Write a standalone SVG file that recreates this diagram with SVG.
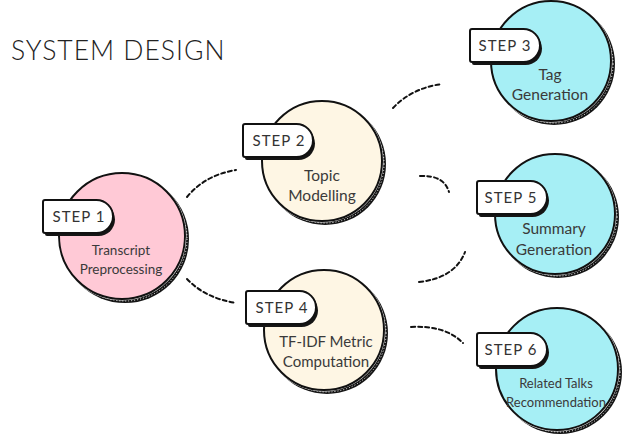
<svg xmlns="http://www.w3.org/2000/svg" width="643" height="443" viewBox="0 0 643 443">
<style>
.title{font-family:Lato,"Noto Sans",sans-serif;font-weight:300;font-size:26.5px;fill:#222;letter-spacing:1px}
.step{font-family:Lato,"Noto Sans",sans-serif;font-size:15px;fill:#333;letter-spacing:1px;text-anchor:middle}
.lbl{font-family:Lato,"Noto Sans",sans-serif;fill:#3a3a3a;text-anchor:middle}
.shadow{fill:#151515}
.hatch{fill:none;stroke:#fff;stroke-width:1;stroke-dasharray:1 2}
.gap{fill:#fff}
.main{stroke:#111;stroke-width:2}
.pink{fill:#FFC9D6}
.cream{fill:#FEF6E4}
.cyan{fill:#A6EFF5}
.conn path{fill:none;stroke:#111;stroke-width:2;stroke-dasharray:4 3;stroke-linecap:round}
</style>
<defs>
<path id="tab" d="M0,2 Q0,0 2,0 H53.5 A16.5,16.5 0 0 1 53.5,33 H2 Q0,33 0,31 Z"/>
<g id="tabfull">
<use href="#tab" transform="translate(2,3)" fill="#151515"/>
<use href="#tab" fill="#fff" stroke="#111" stroke-width="2"/>
</g>
</defs>
<rect width="643" height="443" fill="#fff"/>
<text class="title" x="11" y="60">SYSTEM DESIGN</text>

<g class="conn">
<path d="M187,197 Q205,175 236,170"/>
<path d="M187,279 Q205,298 236,303"/>
<path d="M393,108 Q412,88 442,84"/>
<path d="M420,176 Q444,175 449,192"/>
<path d="M419,282 Q455,278 465,252"/>
<path d="M411,327 Q445,325 463,343"/>
</g>

<g id="step1">
<circle class="shadow" cx="125" cy="239" r="64"/>
<circle class="hatch" cx="125" cy="239" r="62"/>
<circle class="gap" cx="122" cy="236" r="64.5"/>
<circle class="main pink" cx="122" cy="236" r="63"/>
<use href="#tabfull" x="43" y="200"/>
<text class="step" x="79" y="222">STEP 1</text>
<text class="lbl" x="121" y="255" font-size="13.5">Transcript</text>
<text class="lbl" x="121" y="274" font-size="13.5">Preprocessing</text>
</g>

<g id="step2">
<circle class="shadow" cx="325" cy="164" r="61"/>
<circle class="hatch" cx="325" cy="164" r="59"/>
<circle class="gap" cx="322" cy="161" r="61.5"/>
<circle class="main cream" cx="322" cy="161" r="60"/>
<use href="#tabfull" x="243" y="124"/>
<text class="step" x="279" y="146">STEP 2</text>
<text class="lbl" x="322" y="181" font-size="15.5">Topic</text>
<text class="lbl" x="322" y="201" font-size="15.5">Modelling</text>
</g>

<g id="step4">
<circle class="shadow" cx="327" cy="333" r="61"/>
<circle class="hatch" cx="327" cy="333" r="59"/>
<circle class="gap" cx="324" cy="330" r="61.5"/>
<circle class="main cream" cx="324" cy="330" r="60"/>
<use href="#tabfull" x="246" y="291"/>
<text class="step" x="282" y="313">STEP 4</text>
<text class="lbl" x="326" y="347" font-size="15">TF-IDF Metric</text>
<text class="lbl" x="326" y="367" font-size="15">Computation</text>
</g>

<g id="step3">
<circle class="shadow" cx="554" cy="64" r="61"/>
<circle class="hatch" cx="554" cy="64" r="59"/>
<circle class="gap" cx="551" cy="61" r="61.5"/>
<circle class="main cyan" cx="551" cy="61" r="60"/>
<use href="#tabfull" x="470" y="29"/>
<text class="step" x="505" y="51">STEP 3</text>
<text class="lbl" x="550" y="80" font-size="15.5">Tag</text>
<text class="lbl" x="550" y="100" font-size="15.5">Generation</text>
</g>

<g id="step5">
<circle class="shadow" cx="558" cy="217" r="61"/>
<circle class="hatch" cx="558" cy="217" r="59"/>
<circle class="gap" cx="555" cy="214" r="61.5"/>
<circle class="main cyan" cx="555" cy="214" r="60"/>
<use href="#tabfull" x="477" y="181"/>
<text class="step" x="511" y="203">STEP 5</text>
<text class="lbl" x="554" y="234" font-size="15.5">Summary</text>
<text class="lbl" x="554" y="255" font-size="15.5">Generation</text>
</g>

<g id="step6">
<circle class="shadow" cx="560" cy="372" r="62"/>
<circle class="hatch" cx="560" cy="372" r="60"/>
<circle class="gap" cx="557" cy="369" r="62.5"/>
<circle class="main cyan" cx="557" cy="369" r="61"/>
<use href="#tabfull" x="477" y="333"/>
<text class="step" x="511" y="355">STEP 6</text>
<text class="lbl" x="556" y="388" font-size="13">Related Talks</text>
<text class="lbl" x="556" y="407" font-size="13">Recommendation</text>
</g>
</svg>
